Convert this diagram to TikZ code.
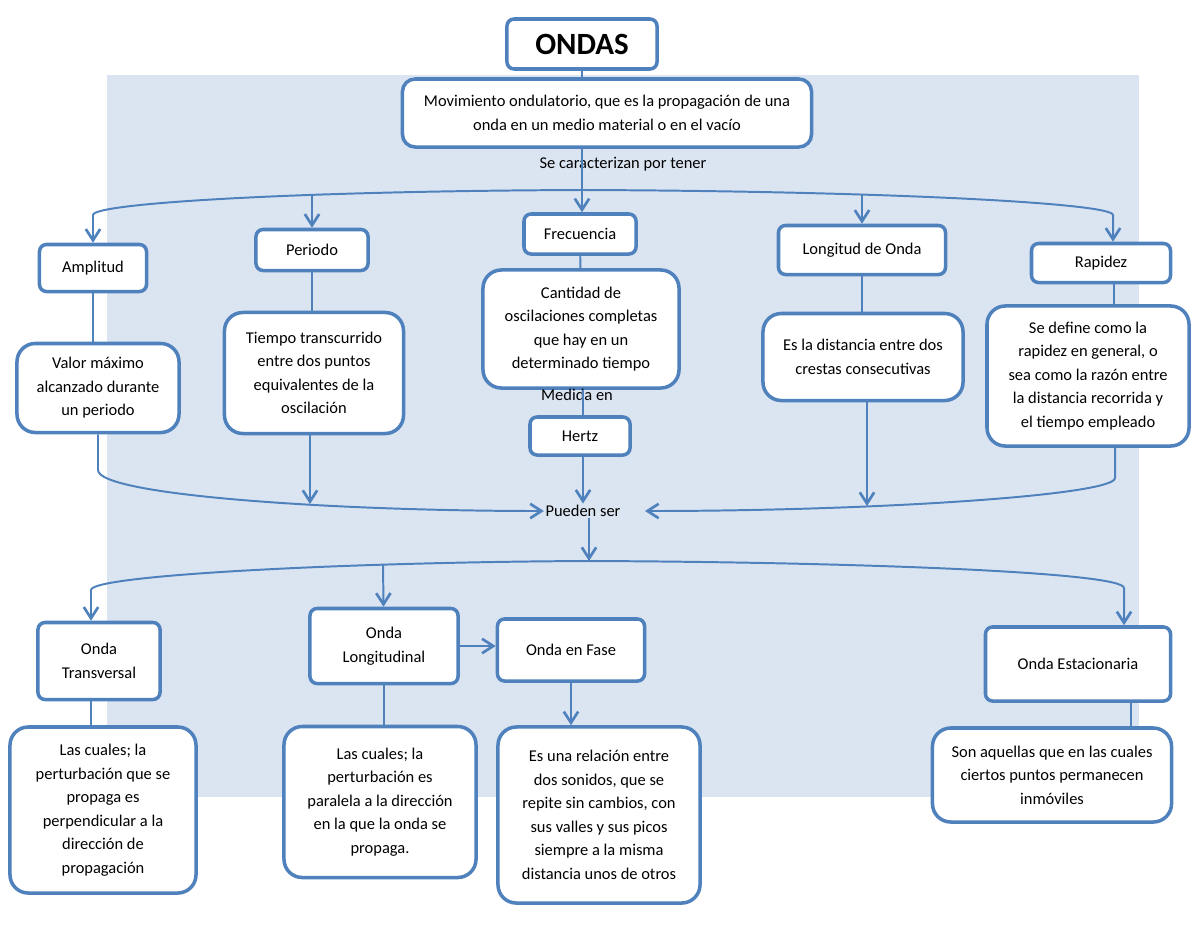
\documentclass[tikz,border=0pt]{standalone}
\usepackage{fontspec}
\setmainfont{Carlito}
\usetikzlibrary{arrows.meta}
\definecolor{wave}{RGB}{79,129,189}
\definecolor{panel}{RGB}{219,229,241}

\begin{document}
\begin{tikzpicture}[
  x=0.025cm, y=-0.025cm,
  base/.style={draw=wave, line width=2.5pt, fill=white, align=center, inner sep=0pt,
    font=\fontsize{11.7}{16.7}\selectfont},
  tag/.style={base, rounded corners=5pt},
  note/.style={base, rounded corners=13pt},
  linktext/.style={inner sep=1pt, font=\fontsize{11.7}{16.7}\selectfont},
  link/.style={draw=wave, line width=1.4pt},
  flow/.style={link, -{Straight Barb[length=2.8mm, width=3.6mm, line width=1.9pt]}}
]
\useasboundingbox (0,0) rectangle (1200,927);
\fill[panel] (107,75) rectangle (1139,797);

% titulo y definicion
\node[tag, minimum width=3.75cm, minimum height=1.25cm, font=\fontsize{22}{24}\selectfont\bfseries] (ondas) at (582,44) {ONDAS};
\node[base, rounded corners=9pt, minimum width=10.225cm, minimum height=1.7cm] (mov) at (607,113) {Movimiento ondulatorio, que es la propagación de una\\onda en un medio material o en el vacío};
\node[linktext] (carac) at (623,164) {Se caracterizan por tener};

% caracteristicas
\node[tag, minimum width=2.675cm, minimum height=1.175cm] (amp) at (93,268) {Amplitud};
\node[tag, minimum width=2.8cm, minimum height=1.025cm] (per) at (312,250) {Periodo};
\node[tag, minimum width=2.8cm, minimum height=1.0cm] (frec) at (580,234) {Frecuencia};
\node[tag, minimum width=4.175cm, minimum height=1.225cm] (lon) at (862,250) {Longitud de Onda};
\node[tag, minimum width=3.475cm, minimum height=0.975cm] (rap) at (1101,263) {Rapidez};

\node[note, minimum width=4.05cm, minimum height=2.225cm] (valor) at (98,388) {Valor máximo\\alcanzado durante\\un periodo};
\node[note, minimum width=4.475cm, minimum height=3.025cm] (tiempo) at (314,373) {Tiempo transcurrido\\entre dos puntos\\equivalentes de la\\oscilación};
\node[note, minimum width=4.9cm, minimum height=2.95cm] (cant) at (581,329) {Cantidad de\\oscilaciones completas\\que hay en un\\determinado tiempo};
\node[linktext] (medida) at (577,395) {Medida en};
\node[tag, minimum width=2.5cm, minimum height=0.95cm] (hertz) at (580,436) {Hertz};
\node[note, minimum width=5.0cm, minimum height=2.175cm] (esla) at (863,357) {Es la distancia entre dos\\crestas consecutivas};
\node[note, minimum width=5.05cm, minimum height=3.5cm] (sedef) at (1088,376) {Se define como la\\rapidez en general, o\\sea como la razón entre\\la distancia recorrida y\\el tiempo empleado};

\node[linktext] (pueden) at (583,511) {Pueden ser};

% tipos de onda
\node[tag, minimum width=3.05cm, minimum height=1.925cm] (trans) at (99,661) {Onda\\Transversal};
\node[tag, minimum width=3.7cm, minimum height=1.875cm] (long) at (384,646) {Onda\\Longitudinal};
\node[tag, minimum width=3.675cm, minimum height=1.55cm] (fase) at (571,650) {Onda en Fase};
\node[tag, minimum width=4.625cm, minimum height=1.85cm] (est) at (1078,664) {Onda Estacionaria};

\node[note, minimum width=4.65cm, minimum height=4.15cm] (tdesc) at (103,810) {Las cuales; la\\perturbación que se\\propaga es\\perpendicular a la\\dirección de\\propagación};
\node[note, minimum width=4.8cm, minimum height=3.775cm] (ldesc) at (380,802) {Las cuales; la\\perturbación es\\paralela a la dirección\\en la que la onda se\\propaga.};
\node[note, minimum width=5.05cm, minimum height=4.4cm] (fdesc) at (599,815) {Es una relación entre\\dos sonidos, que se\\repite sin cambios, con\\sus valles y sus picos\\siempre a la misma\\distancia unos de otros};
\node[note, minimum width=5.975cm, minimum height=2.35cm] (edesc) at (1052,775) {Son aquellas que en las cuales\\ciertos puntos permanecen\\inmóviles};

% ramas
\coordinate (top) at (582,190);
\coordinate (amp-in) at (93,215);
\coordinate (rap-in) at (1113,215);
\coordinate (per-in) at (312,195);
\coordinate (lon-in) at (862,195);
\coordinate (left-end) at (98,470);
\coordinate (right-end) at (1115,478);
\coordinate (pueden-r) at (645,511);
\coordinate (tiempo-out) at (310,504);
\coordinate (esla-out) at (867,506);
\coordinate (bot) at (589,561);
\coordinate (trans-in) at (91,590);
\coordinate (est-in) at (1124,588);
\coordinate (long-in) at (383,564);

\draw[link] (ondas.south) -- (ondas.south |- mov.north);
\draw[flow] (mov.south -| top) -- (frec.north -| top);
\draw[flow] (top) .. controls (300,191) and (93,203) .. (amp-in) -- (amp);
\draw[flow] (top) .. controls (880,191) and (1113,203) .. (rap-in) -- (rap.north -| rap-in);
\draw[flow] (per-in) -- (per);
\draw[flow] (lon-in) -- (lon);

\draw[link] (amp.south) -- (amp.south |- valor.north);
\draw[link] (per.south) -- (per.south |- tiempo.north);
\draw[link] (frec) -- (cant);
\draw[link] (cant.south -| pueden) -- (hertz.north -| pueden);
\draw[link] (lon.south) -- (lon.south |- esla.north);
\draw[link] ([xshift=0.325cm]rap.south) -- ([xshift=0.325cm]rap.south |- sedef.north);

\draw[flow] (valor.south) -- (left-end) .. controls (98,495) and (330,511) .. (pueden.west);
\draw[flow] ([xshift=0.675cm]sedef.south) -- (right-end) .. controls (1115,495) and (880,511) .. (pueden-r);
\draw[flow] (tiempo.south -| tiempo-out) -- (tiempo-out);
\draw[flow] (esla.south -| esla-out) -- (esla-out);
\draw[flow] (hertz.south -| pueden) -- (pueden.north);

\draw[flow] (pueden.south -| bot) -- (bot);
\draw[flow] (bot) .. controls (350,562) and (91,575) .. (trans-in) -- (trans.north -| trans-in);
\draw[flow] (bot) .. controls (850,562) and (1124,572) .. (est-in) -- (est.north -| est-in);
\draw[flow] (long-in) -- (long);

\draw[flow] (long.east) -- (long.east -| fase.west);
\draw[link] (trans.south -| trans-in) -- (tdesc.north -| trans-in);
\draw[link] (long.south) -- (long.south |- ldesc.north);
\draw[flow] (fase.south) -- (fase.south |- fdesc.north);
\draw[link] ([xshift=1.325cm]est.south) -- ([xshift=1.325cm]est.south |- edesc.north);
\end{tikzpicture}
\end{document}
